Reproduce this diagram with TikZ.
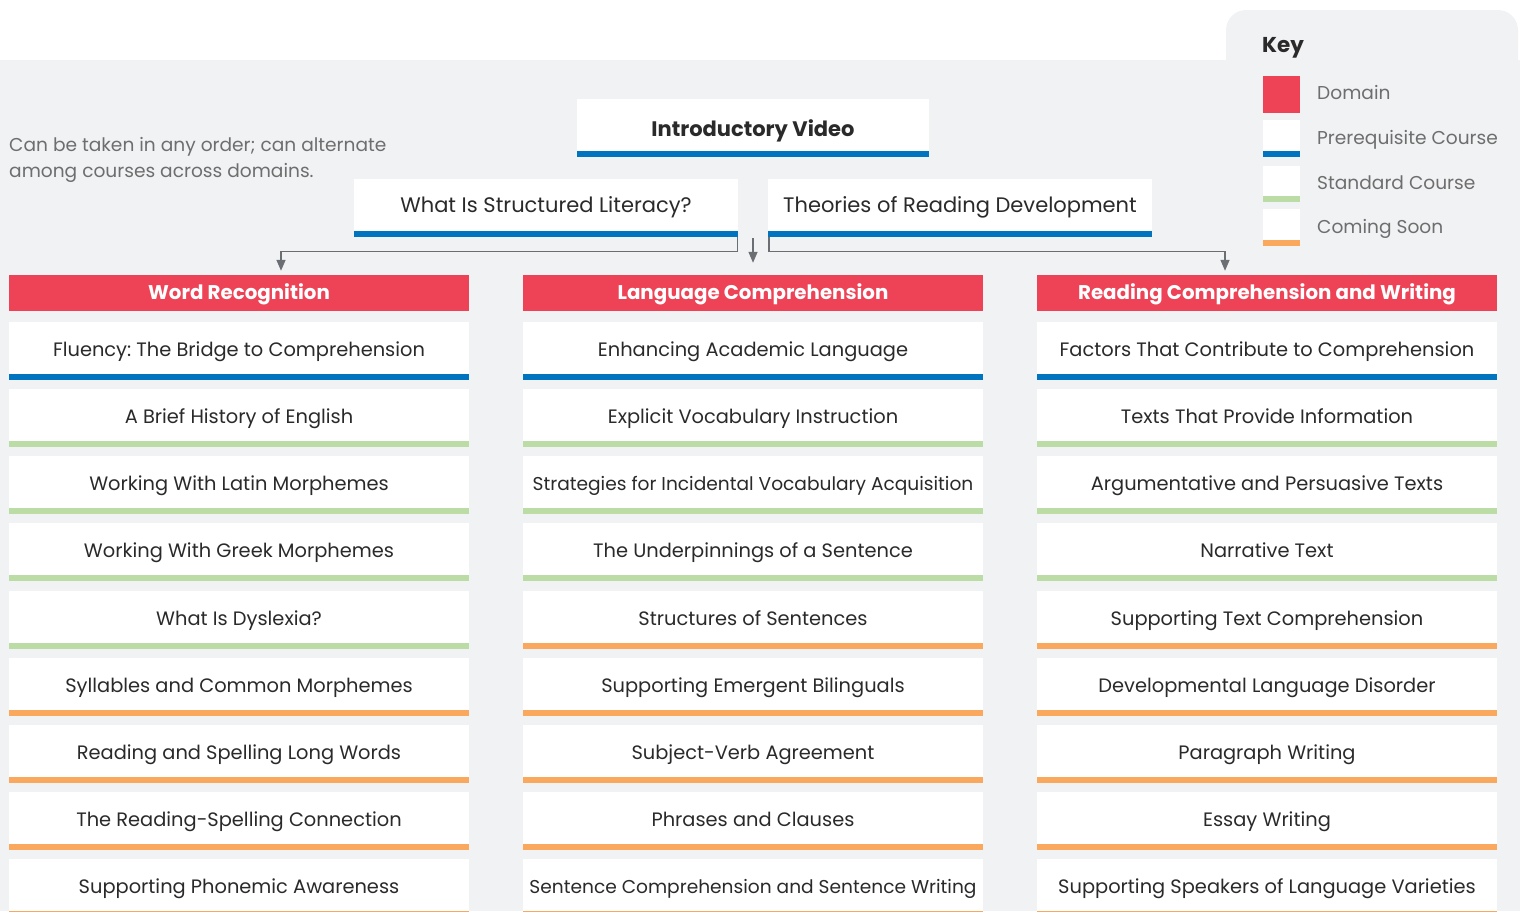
\documentclass[tikz,border=0pt]{standalone}
\usepackage{fontspec}
\setmainfont{Poppins}
\frenchspacing
\usetikzlibrary{arrows.meta,positioning}
\definecolor{pagegray}{HTML}{F1F2F4}
\definecolor{domainred}{HTML}{EE4356}
\definecolor{prqblue}{HTML}{0074BE}
\definecolor{stdgreen}{HTML}{BCDCA5}
\definecolor{soonorange}{HTML}{F9A85E}
\definecolor{inkdark}{HTML}{2A2A2A}
\definecolor{inkgray}{HTML}{6E6E6E}
\definecolor{linkgray}{HTML}{6B6E73}
\tikzset{
  course/.style={fill=white, minimum width=460pt, minimum height=52pt, inner sep=0pt,
    text height=19pt, text depth=2pt, text=inkdark, font=\fontsize{19.4}{22}\selectfont,
    append after command={\pgfextra{\fill[#1] (\tikzlastnode.south west) rectangle ([yshift=-6pt]\tikzlastnode.south east);}}},
  domainbox/.style={fill=domainred, minimum width=460pt, minimum height=36pt, inner sep=0pt,
    text height=14pt, text depth=2pt, text=white, font=\fontsize{19.8}{22}\selectfont\bfseries},
  link/.style={linkgray, line width=1.4pt, -{Triangle[width=9pt,length=11pt]}},
  keytext/.style={anchor=base west, inner sep=0pt, text=inkgray, font=\fontsize{18.6}{21}\selectfont},
}
\begin{document}
\begin{tikzpicture}[x=1pt,y=-1pt]
    \useasboundingbox (0,0) rectangle (1520,911);
    % page background and key panel
    \fill[pagegray] (0,60) rectangle (1520,911);
    \fill[pagegray, rounded corners=20pt] (1226,10) rectangle (1518,400);
    % key
    \node[anchor=base west, inner sep=0pt, text=inkdark, font=\fontsize{21.5}{24}\selectfont\bfseries] (keytitle) at (1262,52) {Key};
    \fill[domainred] (1263,76) rectangle (1300,113);
    \fill[white] (1263,120) rectangle (1300,151);
    \fill[prqblue] (1263,151) rectangle (1300,157);
    \fill[white] (1263,166) rectangle (1300,196);
    \fill[stdgreen] (1263,196) rectangle (1300,202);
    \fill[white] (1263,209) rectangle (1300,240);
    \fill[soonorange] (1263,240) rectangle (1300,246);
    \node[keytext] (kdomain) at (1317,99) {Domain};
    \node[keytext] (kprq) at (1317,144) {Prerequisite Course};
    \node[keytext] (kstd) at (1317,189) {Standard Course};
    \node[keytext] (ksoon) at (1317,233) {Coming Soon};
    % note
    \node[anchor=north west, align=left, inner sep=0pt, text=inkgray, font=\fontsize{18.6}{26}\selectfont] (note) at (9,137.5)
      {Can be taken in any order; can alternate\\among courses across domains.};
    % prerequisites
    \node[course=prqblue, minimum width=352pt, text height=25pt, font=\fontsize{21}{24}\selectfont\bfseries] (intro) at (753,125) {Introductory Video};
    \node[course=prqblue, minimum width=384pt, text height=16.5pt, font=\fontsize{21}{24}\selectfont] (wisl) at (546,205) {What Is Structured Literacy?};
    \node[course=prqblue, minimum width=384pt, text height=16.5pt, font=\fontsize{21}{24}\selectfont] (theories) at (960,205) {Theories of Reading Development};
    % domains
    \node[domainbox] (wr) at (239,293) {Word Recognition};
    \node[domainbox] (lc) at (753,293) {Language Comprehension};
    \node[domainbox] (rcw) at (1267,293) {Reading Comprehension and Writing};
    % connectors
    \coordinate (midtop) at (753,238);
    \draw[link] ([xshift=-1pt,yshift=-6pt]wisl.south east) -- ++(0,14) -| ([xshift=42pt,yshift=4pt]wr.north);
    \draw[link] (midtop) -- ([yshift=12pt]lc.north);
    \draw[link] ([xshift=1pt,yshift=-6pt]theories.south west) -- ++(0,14) -| ([xshift=-42pt,yshift=4pt]rcw.north);
    % word recognition courses
    \node[course=prqblue] (wr1) at (239,348) {Fluency: The Bridge to Comprehension};
    \node[course=stdgreen] (wr2) at (239,415) {A Brief History of English};
    \node[course=stdgreen] (wr3) at (239,482) {Working With Latin Morphemes};
    \node[course=stdgreen] (wr4) at (239,549) {Working With Greek Morphemes};
    \node[course=stdgreen] (wr5) at (239,617) {What Is Dyslexia?};
    \node[course=soonorange] (wr6) at (239,684) {Syllables and Common Morphemes};
    \node[course=soonorange] (wr7) at (239,751) {Reading and Spelling Long Words};
    \node[course=soonorange] (wr8) at (239,818) {The Reading-Spelling Connection};
    \node[course=soonorange] (wr9) at (239,885) {Supporting Phonemic Awareness};
    % language comprehension courses
    \node[course=prqblue] (lc1) at (753,348) {Enhancing Academic Language};
    \node[course=stdgreen] (lc2) at (753,415) {Explicit Vocabulary Instruction};
    \node[course=stdgreen, font=\fontsize{18.6}{22}\selectfont] (lc3) at (753,482) {Strategies for Incidental Vocabulary Acquisition};
    \node[course=stdgreen] (lc4) at (753,549) {The Underpinnings of a Sentence};
    \node[course=soonorange] (lc5) at (753,617) {Structures of Sentences};
    \node[course=soonorange] (lc6) at (753,684) {Supporting Emergent Bilinguals};
    \node[course=soonorange] (lc7) at (753,751) {Subject-Verb Agreement};
    \node[course=soonorange] (lc8) at (753,818) {Phrases and Clauses};
    \node[course=soonorange, font=\fontsize{18.6}{22}\selectfont] (lc9) at (753,885) {Sentence Comprehension and Sentence Writing};
    % reading comprehension and writing courses
    \node[course=prqblue] (rcw1) at (1267,348) {Factors That Contribute to Comprehension};
    \node[course=stdgreen] (rcw2) at (1267,415) {Texts That Provide Information};
    \node[course=stdgreen] (rcw3) at (1267,482) {Argumentative and Persuasive Texts};
    \node[course=stdgreen] (rcw4) at (1267,549) {Narrative Text};
    \node[course=soonorange] (rcw5) at (1267,617) {Supporting Text Comprehension};
    \node[course=soonorange] (rcw6) at (1267,684) {Developmental Language Disorder};
    \node[course=soonorange] (rcw7) at (1267,751) {Paragraph Writing};
    \node[course=soonorange] (rcw8) at (1267,818) {Essay Writing};
    \node[course=soonorange] (rcw9) at (1267,885) {Supporting Speakers of Language Varieties};
\end{tikzpicture}
\end{document}
